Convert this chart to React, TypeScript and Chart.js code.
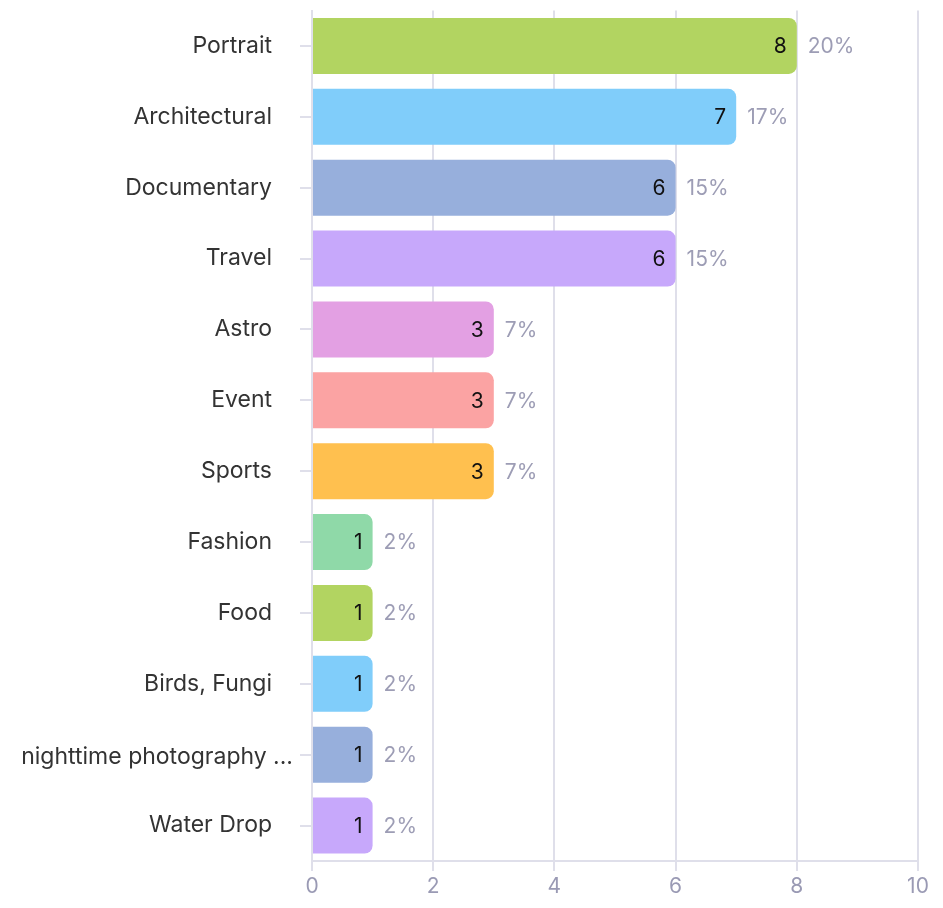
import React, { useEffect, useRef } from "react";
import { Chart, registerables } from "chart.js";

Chart.register(...registerables);

const categories = [
  "Portrait",
  "Architectural",
  "Documentary",
  "Travel",
  "Astro",
  "Event",
  "Sports",
  "Fashion",
  "Food",
  "Birds, Fungi",
  "nighttime photography ...",
  "Water Drop",
];
const counts = [8, 7, 6, 6, 3, 3, 3, 1, 1, 1, 1, 1];
const percentLabels = ["20%", "17%", "15%", "15%", "7%", "7%", "7%", "2%", "2%", "2%", "2%", "2%"];
const barColors = [
  "#b2d461",
  "#80cdfa",
  "#97afdc",
  "#c7a8fb",
  "#e3a0e3",
  "#fba3a3",
  "#ffc04f",
  "#8fd9a8",
  "#b2d461",
  "#80cdfa",
  "#97afdc",
  "#c7a8fb",
];
const xTicks = [0, 2, 4, 6, 8, 10];
const truncatedIndex = 10;

const FONT = "Inter, 'Noto Sans', sans-serif";

const labelPlugin = {
  id: "barLabels",
  afterDatasetsDraw(chart: any) {
    const ctx = chart.ctx;
    const meta = chart.getDatasetMeta(0);
    ctx.save();
    ctx.textBaseline = "middle";
    meta.data.forEach((bar: any, i: number) => {
      ctx.font = `21px ${FONT}`;
      ctx.fillStyle = "#111111";
      ctx.textAlign = "right";
      ctx.fillText(String(counts[i]), bar.x - 10, bar.y + 1);
      ctx.fillStyle = "#9d9db5";
      ctx.textAlign = "left";
      ctx.fillText(percentLabels[i], bar.x + 11, bar.y + 1);
    });
    // long truncated category label sits further right than the others
    const yScale = chart.scales.y;
    ctx.font = `23px ${FONT}`;
    ctx.fillStyle = "#333333";
    ctx.textAlign = "right";
    ctx.fillText(categories[truncatedIndex], yScale.right - 19, yScale.getPixelForValue(truncatedIndex) + 2);
    ctx.restore();
  },
};

export default function App() {
  const ref = useRef<HTMLCanvasElement>(null);
  useEffect(() => {
    if (!ref.current) return;
    const chart = new Chart(ref.current, {
      type: "bar",
      data: {
        labels: categories,
        datasets: [
          {
            data: counts,
            backgroundColor: barColors,
            borderRadius: 8,
            borderSkipped: "start",
            barPercentage: 1,
            categoryPercentage: 0.79,
          },
        ],
      },
      options: {
        indexAxis: "y",
        animation: false,
        responsive: false,
        maintainAspectRatio: false,
        layout: { padding: { top: 2.5, right: 17, bottom: 0, left: 0 } },
        plugins: { legend: { display: false }, tooltip: { enabled: false } },
        scales: {
          x: {
            min: 0,
            max: 10,
            afterBuildTicks(scale: any) {
              scale.ticks = xTicks.map((v) => ({ value: v }));
            },
            afterFit(scale: any) {
              scale.height = 39;
              scale.paddingLeft = 0;
              scale.paddingRight = 0;
            },
            grid: { color: "#dfdfea", lineWidth: 2, tickLength: 10 },
            border: { color: "#dfdfea", width: 2 },
            ticks: { color: "#9a9ab4", font: { size: 21, family: FONT }, padding: 3 },
          },
          y: {
            afterFit(scale: any) {
              scale.width = 304;
              scale.paddingTop = 0;
              scale.paddingBottom = 0;
            },
            grid: {
              display: true,
              offset: false,
              drawOnChartArea: false,
              color: "#dfdfea",
              lineWidth: 2,
              tickLength: 12,
            },
            border: { color: "#dfdfea", width: 2 },
            ticks: {
              color: (c: any) => (c.index === truncatedIndex ? "rgba(0,0,0,0)" : "#333333"),
              font: { size: 23, family: FONT },
              padding: 28,
              autoSkip: false,
            },
          },
        },
      },
      plugins: [labelPlugin],
    });
    return () => chart.destroy();
  }, []);
  return (
    <div style={{ width: 927, height: 892 }}>
      <canvas ref={ref} width={927} height={892} style={{ width: 927, height: 892 }} />
    </div>
  );
}
